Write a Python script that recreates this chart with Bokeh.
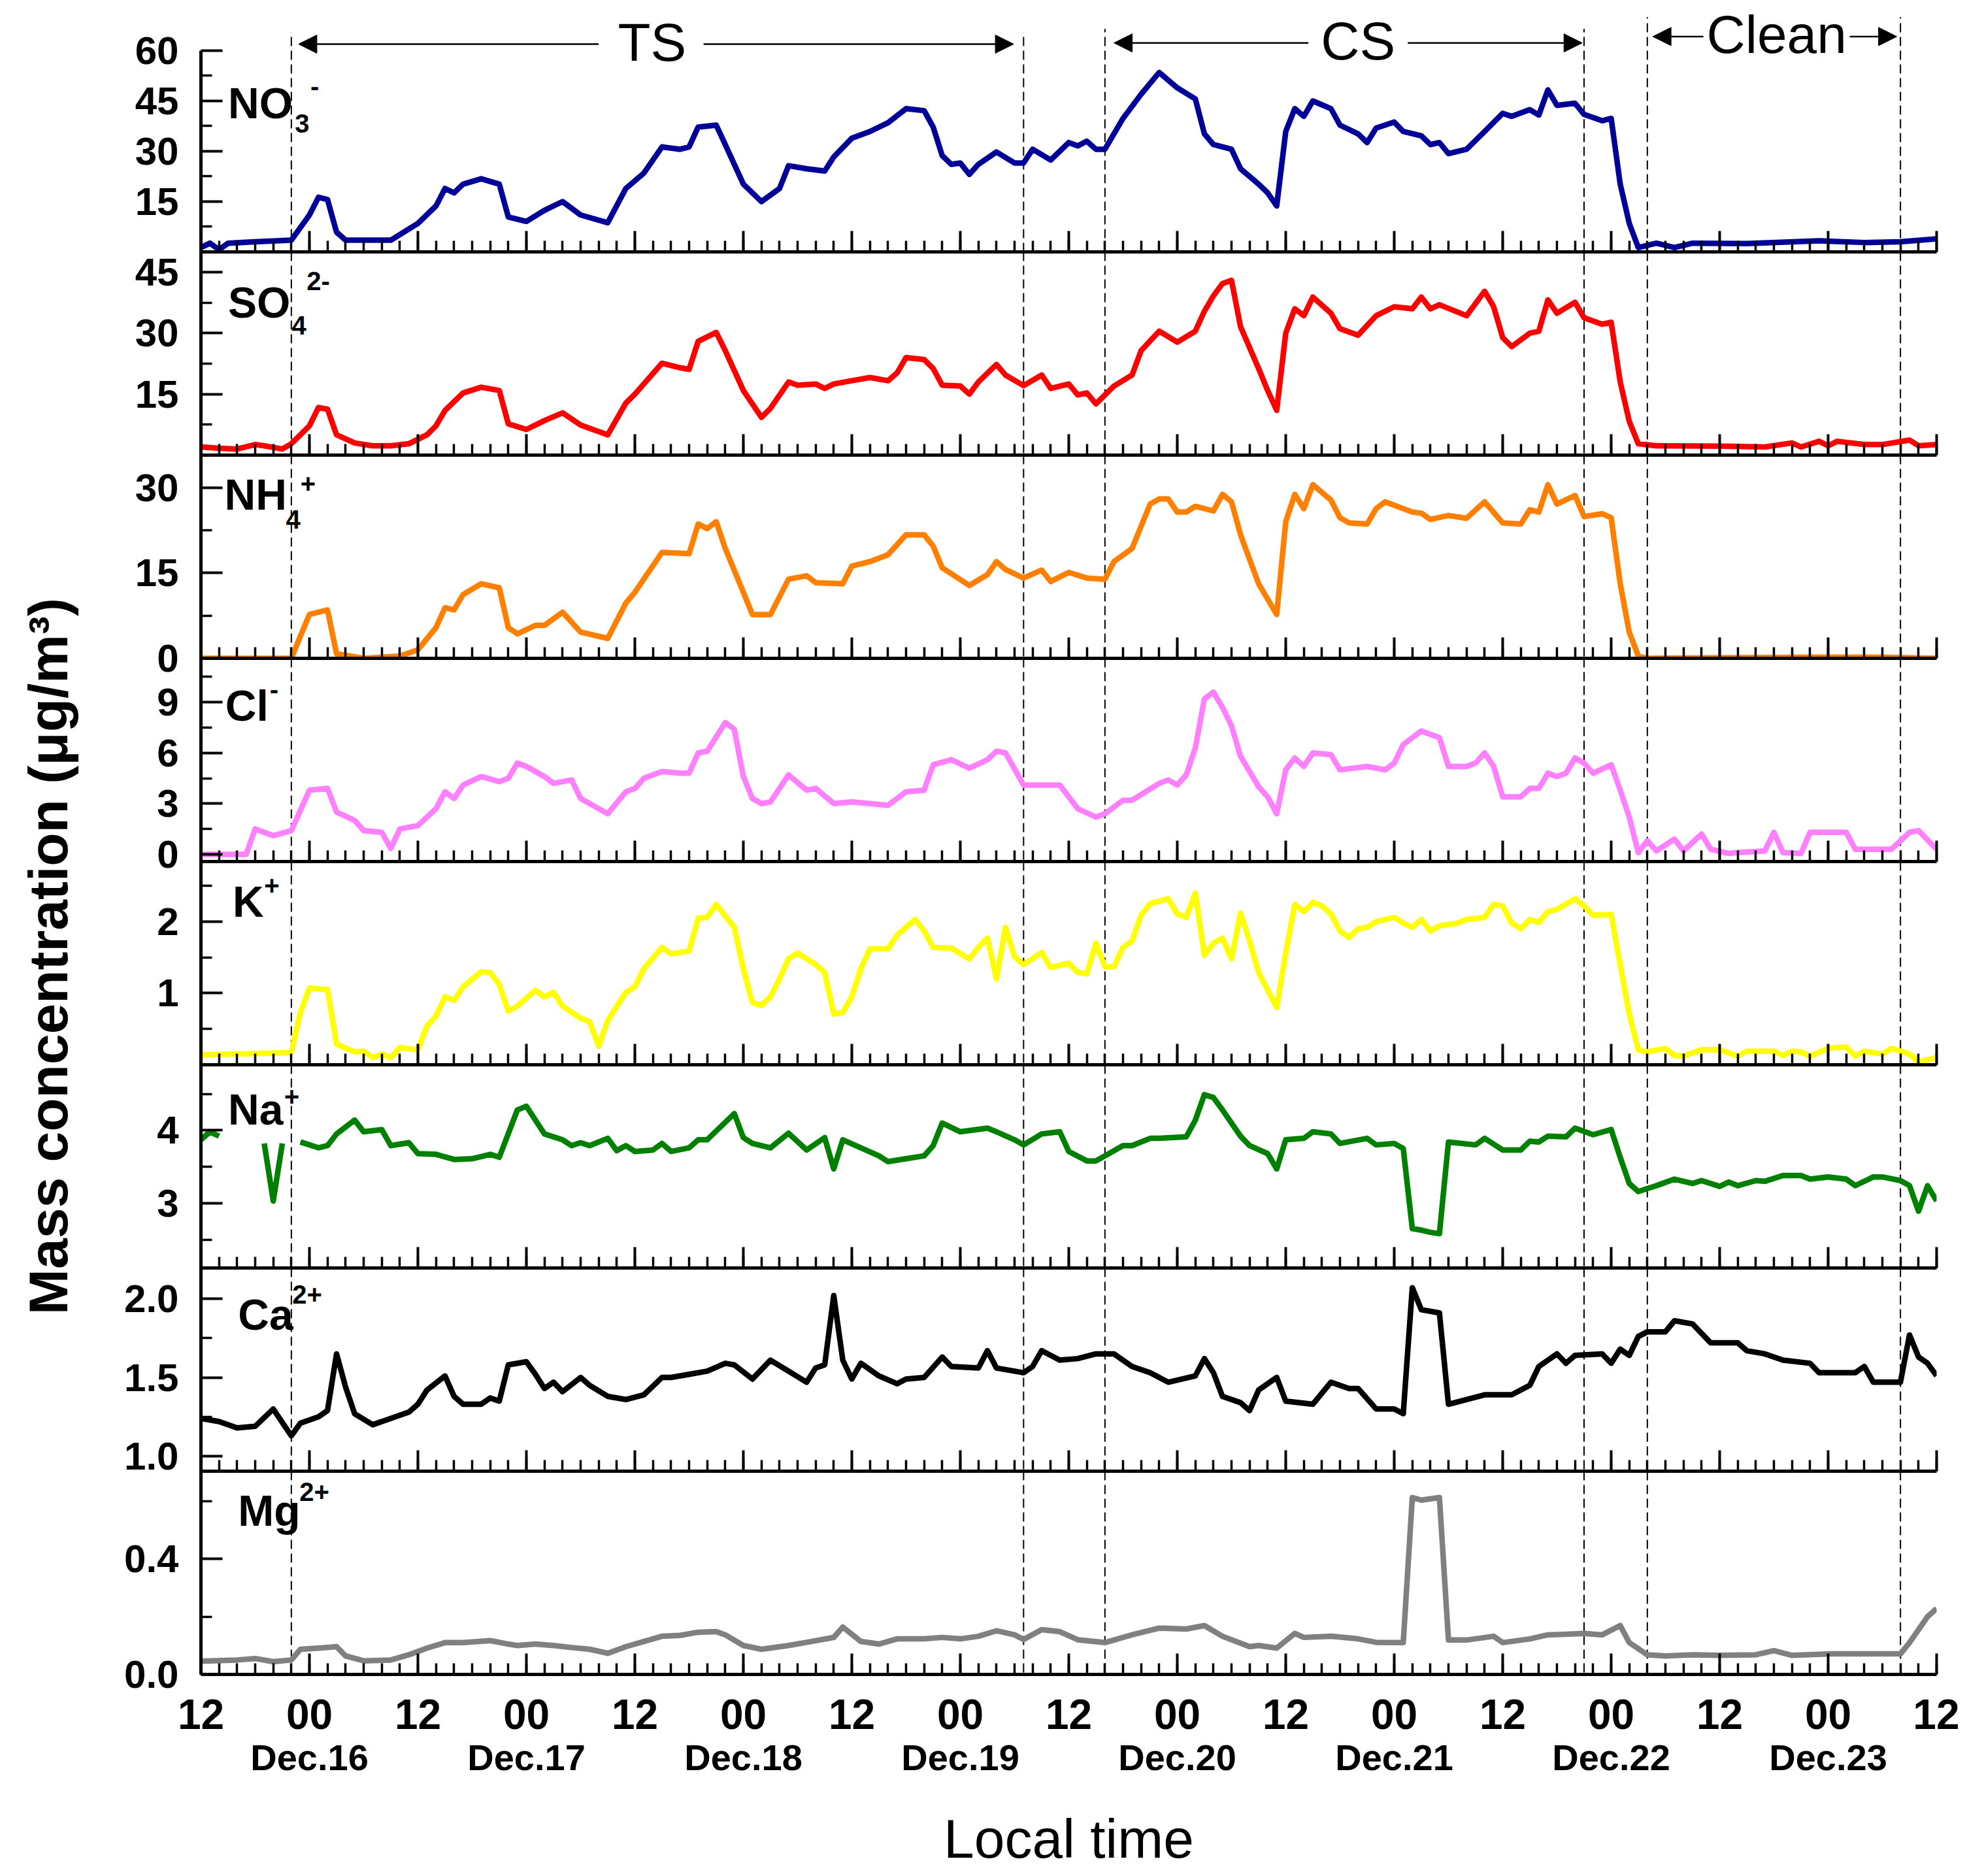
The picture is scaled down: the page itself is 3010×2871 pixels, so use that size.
from math import nan, pi

import numpy as np
from bokeh.embed import file_html
from bokeh.layouts import column, row
from bokeh.models import (Arrow, FixedTicker, Label, LinearAxis, NormalHead,
                          PrintfTickFormatter, Range1d, Span)
from bokeh.plotting import figure
from bokeh.resources import INLINE

FONT = "Liberation Sans"

# time axis: hours counted from Dec.15 00:00 local time
hour_ticks = list(range(12, 205, 12))
hour_minor = list(range(12, 205, 2))
hour_text = ["12" if h % 24 == 12 else "00" for h in hour_ticks]
day_ticks = list(range(24, 193, 24))
day_text = ["Dec.16", "Dec.17", "Dec.18", "Dec.19", "Dec.20", "Dec.21", "Dec.22", "Dec.23"]

# period boundaries (hours) and names
period_bounds = [22, 103, 112, 165, 172, 200]
period_names = ["TS", "CS", "Clean"]

# (hour, concentration in ug/m3)
no3 = [(12, 1.3), (13, 2.6), (14, 0.7), (15, 2.6), (18, 3.0), (22, 3.5), (24, 11.0), (25, 16.3),
       (26, 15.6), (27, 5.9), (28, 3.5), (33, 3.5), (36, 8.5), (38, 13.7), (39, 18.9), (40, 17.6),
       (41, 20.2), (43, 21.8), (45, 20.2), (46, 10.4), (48, 9.1), (50, 12.4), (52, 15.0), (54, 11.0),
       (57, 8.7), (59, 18.9), (61, 23.5), (63, 31.3), (65, 30.6), (66, 31.3), (67, 37.2), (69, 37.8),
       (70, 32.0), (72, 20.2), (74, 15.0), (76, 18.9), (77, 25.7), (79, 24.8), (81, 24.1), (82, 28.3),
       (84, 33.9), (86, 35.9), (88, 38.5), (90, 42.7), (92, 42.1), (93, 37.2), (94, 28.7), (95, 26.1),
       (96, 26.5), (97, 23.1), (98, 26.1), (100, 29.8), (102, 26.5), (103, 26.5), (104, 30.6),
       (106, 27.4), (108, 32.6), (109, 31.6), (110, 33.0), (111, 30.6), (112, 30.6), (114, 39.8),
       (116, 47.0), (118, 53.5), (120, 48.9), (122, 45.6), (123, 35.2), (124, 32.0), (126, 30.6),
       (127, 24.8), (129, 20.2), (130, 17.6), (131, 13.7), (132, 35.9), (133, 42.7), (134, 40.4),
       (135, 45.0), (137, 42.7), (138, 37.8), (140, 35.2), (141, 32.6), (142, 36.9), (144, 38.7),
       (145, 35.9), (147, 34.6), (148, 32.0), (149, 32.6), (150, 29.3), (152, 30.6), (154, 35.9),
       (156, 41.3), (157, 40.4), (159, 42.4), (160, 40.8), (161, 48.3), (162, 43.7), (164, 44.3),
       (165, 41.0), (167, 39.1), (168, 39.8), (169, 20.2), (170, 8.5), (171, 1.3), (173, 2.6),
       (175, 1.3), (177, 2.6), (183, 2.5), (191, 3.3), (196, 2.8), (200, 3.0), (204, 3.9)]

so4 = [(12, 2.0), (14, 1.7), (16, 1.5), (18, 2.6), (19, 2.3), (21, 1.5), (22, 2.8), (24, 7.2),
       (25, 11.7), (26, 11.3), (27, 5.0), (29, 3.0), (31, 2.3), (33, 2.3), (35, 2.8), (37, 5.0),
       (38, 7.2), (39, 11.0), (41, 15.3), (43, 16.7), (45, 15.9), (46, 7.7), (48, 6.3), (50, 8.5),
       (52, 10.4), (54, 7.4), (57, 5.0), (59, 12.8), (60, 15.0), (63, 22.6), (65, 21.5), (66, 21.1),
       (67, 28.0), (69, 30.2), (70, 25.7), (72, 15.9), (74, 9.3), (75, 11.5), (77, 18.0), (78, 17.2),
       (80, 17.5), (81, 16.4), (82, 17.5), (84, 18.3), (86, 19.1), (88, 18.3), (89, 20.2), (90, 24.0),
       (92, 23.5), (93, 21.3), (94, 17.2), (96, 17.0), (97, 15.0), (98, 18.0), (100, 22.3),
       (101, 19.7), (103, 17.1), (105, 19.7), (106, 16.4), (108, 17.5), (109, 14.8), (110, 15.3),
       (111, 12.6), (113, 17.0), (115, 19.7), (116, 25.7), (118, 30.5), (120, 27.8), (122, 30.5),
       (123, 35.4), (124, 39.2), (125, 42.2), (126, 43.0), (127, 31.6), (129, 21.3), (130, 15.9),
       (131, 11.0), (132, 30.0), (133, 36.0), (134, 34.3), (135, 38.9), (137, 34.9), (138, 31.1),
       (140, 29.5), (142, 34.3), (144, 36.5), (146, 36.0), (147, 38.9), (148, 36.0), (149, 37.0),
       (152, 34.3), (154, 40.3), (155, 36.5), (156, 28.9), (157, 26.7), (159, 30.0), (160, 30.5),
       (161, 38.2), (162, 34.9), (164, 37.6), (165, 33.8), (167, 32.2), (168, 32.7), (169, 18.0),
       (170, 8.3), (171, 2.8), (173, 2.3), (180, 2.2), (185, 2.0), (188, 3.0), (189, 2.0), (191, 3.4),
       (192, 2.3), (193, 3.4), (196, 2.6), (198, 2.6), (201, 3.7), (202, 2.3), (204, 2.6)]

nh4 = [(12, 0.0), (22, 0.0), (23, 3.9), (24, 7.7), (26, 8.5), (27, 0.8), (30, 0.0), (34, 0.4),
       (36, 1.5), (38, 5.4), (39, 8.9), (40, 8.5), (41, 11.2), (43, 13.1), (45, 12.4), (46, 5.4),
       (47, 4.3), (49, 5.8), (50, 5.8), (52, 8.1), (54, 4.6), (57, 3.5), (59, 9.7), (60, 11.6),
       (63, 18.6), (66, 18.4), (67, 23.6), (68, 22.8), (69, 24.0), (70, 19.3), (72, 11.6), (73, 7.7),
       (75, 7.7), (77, 13.9), (79, 14.5), (80, 13.3), (83, 13.1), (84, 16.2), (86, 17.0), (88, 18.2),
       (90, 21.7), (92, 21.7), (93, 19.7), (94, 15.9), (97, 12.8), (99, 14.7), (100, 17.0),
       (101, 15.6), (103, 14.1), (105, 15.5), (106, 13.5), (108, 15.1), (110, 14.1), (112, 13.9),
       (113, 17.0), (115, 19.3), (117, 27.1), (118, 28.0), (119, 28.0), (120, 25.7), (121, 25.7),
       (122, 26.7), (124, 25.9), (125, 28.8), (126, 27.5), (127, 21.7), (129, 13.1), (131, 7.7),
       (132, 24.0), (133, 28.8), (134, 26.3), (135, 30.5), (137, 27.8), (138, 24.7), (139, 23.8),
       (141, 23.6), (142, 26.3), (143, 27.5), (146, 25.7), (147, 25.5), (148, 24.4), (150, 25.1),
       (152, 24.6), (154, 27.5), (156, 23.8), (158, 23.6), (159, 26.1), (160, 25.7), (161, 30.5),
       (162, 27.1), (164, 28.6), (165, 24.9), (167, 25.4), (168, 24.7), (169, 13.1), (170, 4.6),
       (171, 0.4), (172, 0.0), (190, 0.2), (198, 0.2), (204, 0.0)]

cl = [(12, 0.0), (17, 0.0), (18, 1.5), (20, 1.1), (22, 1.4), (24, 3.8), (26, 3.9), (27, 2.5),
      (29, 2.0), (30, 1.4), (32, 1.3), (33, 0.35), (34, 1.5), (36, 1.7), (38, 2.7), (39, 3.7),
      (40, 3.3), (41, 4.1), (43, 4.6), (45, 4.3), (46, 4.5), (47, 5.4), (48, 5.2), (50, 4.6),
      (51, 4.2), (53, 4.4), (54, 3.3), (56, 2.7), (57, 2.4), (59, 3.7), (60, 3.9), (61, 4.5),
      (63, 4.9), (65, 4.8), (66, 4.8), (67, 6.0), (68, 6.1), (70, 7.8), (71, 7.4), (72, 4.6),
      (73, 3.3), (74, 3.0), (75, 3.1), (77, 4.7), (79, 3.8), (80, 3.9), (82, 3.0), (84, 3.1),
      (86, 3.0), (88, 2.9), (90, 3.7), (92, 3.8), (93, 5.3), (95, 5.6), (97, 5.1), (99, 5.6),
      (100, 6.1), (101, 6.0), (103, 4.1), (105, 4.1), (107, 4.1), (109, 2.7), (111, 2.2),
      (112, 2.4), (114, 3.2), (115, 3.2), (118, 4.2), (119, 4.4), (120, 4.1), (121, 4.7),
      (122, 6.3), (123, 9.2), (124, 9.6), (125, 8.7), (126, 7.6), (127, 5.8), (129, 4.0),
      (130, 3.4), (131, 2.4), (132, 5.0), (133, 5.7), (134, 5.2), (135, 6.0), (137, 5.9),
      (138, 5.0), (141, 5.2), (143, 5.0), (144, 5.4), (145, 6.5), (147, 7.3), (149, 6.9),
      (150, 5.2), (152, 5.2), (153, 5.4), (154, 6.0), (155, 5.2), (156, 3.4), (158, 3.4),
      (159, 3.9), (160, 3.9), (161, 4.8), (162, 4.6), (163, 4.8), (164, 5.7), (165, 5.4),
      (166, 4.8), (168, 5.3), (169, 3.8), (170, 2.2), (171, 0.1), (172, 0.8), (173, 0.2),
      (175, 0.9), (176, 0.2), (178, 1.2), (179, 0.3), (181, 0.05), (182, 0.1), (185, 0.2),
      (186, 1.3), (187, 0.1), (189, 0.05), (190, 1.3), (194, 1.3), (195, 0.3), (199, 0.3),
      (201, 1.3), (202, 1.4), (204, 0.3)]

k = [(12, 0.14), (22, 0.17), (23, 0.73), (24, 1.07), (26, 1.05), (27, 0.29), (29, 0.18), (30, 0.19),
     (31, 0.10), (32, 0.15), (33, 0.10), (34, 0.24), (36, 0.21), (37, 0.54), (38, 0.68), (39, 0.95),
     (40, 0.90), (41, 1.09), (43, 1.30), (44, 1.29), (45, 1.12), (46, 0.75), (47, 0.82), (49, 1.04),
     (50, 0.95), (51, 1.01), (52, 0.82), (54, 0.65), (55, 0.60), (56, 0.26), (57, 0.62), (59, 1.01),
     (60, 1.09), (61, 1.34), (63, 1.64), (64, 1.55), (66, 1.59), (67, 2.05), (68, 2.06), (69, 2.24),
     (71, 1.92), (72, 1.34), (73, 0.87), (74, 0.83), (75, 0.95), (76, 1.20), (77, 1.48), (78, 1.56),
     (80, 1.40), (81, 1.29), (82, 0.71), (83, 0.73), (84, 0.95), (85, 1.34), (86, 1.62), (88, 1.62),
     (89, 1.81), (91, 2.03), (92, 1.87), (93, 1.64), (95, 1.63), (97, 1.48), (98, 1.64), (99, 1.77),
     (100, 1.20), (101, 1.92), (102, 1.51), (103, 1.40), (105, 1.57), (106, 1.36), (108, 1.42),
     (109, 1.29), (110, 1.27), (111, 1.70), (112, 1.37), (113, 1.37), (114, 1.64), (115, 1.73),
     (116, 2.09), (117, 2.25), (119, 2.32), (120, 2.11), (121, 2.06), (122, 2.40), (123, 1.53),
     (124, 1.70), (125, 1.77), (126, 1.48), (127, 2.12), (128, 1.73), (129, 1.29), (131, 0.80),
     (132, 1.56), (133, 2.24), (134, 2.14), (135, 2.27), (136, 2.22), (137, 2.11), (138, 1.87),
     (139, 1.78), (140, 1.90), (141, 1.92), (142, 2.00), (144, 2.06), (145, 1.98), (146, 1.92),
     (147, 2.03), (148, 1.87), (149, 1.94), (151, 1.98), (152, 2.03), (154, 2.06), (155, 2.24),
     (156, 2.22), (157, 1.98), (158, 1.90), (159, 2.03), (160, 1.99), (161, 2.14), (162, 2.17),
     (164, 2.32), (165, 2.22), (166, 2.09), (168, 2.10), (169, 1.40), (170, 0.71), (171, 0.21),
     (172, 0.18), (174, 0.23), (175, 0.13), (176, 0.12), (178, 0.21), (180, 0.21), (182, 0.12),
     (183, 0.19), (186, 0.19), (187, 0.13), (188, 0.19), (189, 0.18), (190, 0.12), (192, 0.23),
     (194, 0.25), (195, 0.12), (196, 0.19), (198, 0.15), (199, 0.23), (201, 0.15), (202, 0.04),
     (204, 0.10)]

na = [(12, 3.87), (13, 3.98), (14, 3.92), (16, nan), (19, 3.82), (20, 3.03), (21, 3.82), (22, nan),
      (23, 3.84), (25, 3.76), (26, 3.79), (27, 3.95), (29, 4.14), (30, 3.98), (32, 4.01), (33, 3.79),
      (35, 3.83), (36, 3.68), (38, 3.67), (40, 3.60), (42, 3.61), (44, 3.67), (45, 3.63), (47, 4.28),
      (48, 4.33), (50, 3.95), (52, 3.87), (53, 3.79), (54, 3.83), (55, 3.79), (57, 3.89), (58, 3.72),
      (59, 3.79), (60, 3.71), (62, 3.73), (63, 3.82), (64, 3.71), (66, 3.76), (67, 3.87), (68, 3.87),
      (70, 4.11), (71, 4.23), (72, 3.90), (73, 3.82), (75, 3.76), (77, 3.96), (79, 3.73), (81, 3.90),
      (82, 3.47), (83, 3.87), (85, 3.76), (87, 3.65), (88, 3.57), (90, 3.61), (92, 3.65), (93, 3.79),
      (94, 4.10), (96, 3.98), (99, 4.03), (100, 3.98), (102, 3.87), (103, 3.80), (105, 3.95),
      (107, 3.98), (108, 3.71), (110, 3.58), (111, 3.58), (112, 3.65), (114, 3.79), (115, 3.79),
      (117, 3.89), (118, 3.89), (121, 3.91), (122, 4.14), (123, 4.49), (124, 4.45), (125, 4.28),
      (127, 3.92), (128, 3.79), (130, 3.68), (131, 3.47), (132, 3.87), (134, 3.89), (135, 3.98),
      (137, 3.95), (138, 3.82), (141, 3.89), (142, 3.80), (144, 3.82), (145, 3.75), (146, 2.65),
      (147, 2.63), (148, 2.60), (149, 2.58), (150, 3.84), (153, 3.80), (154, 3.89), (156, 3.73),
      (158, 3.73), (159, 3.85), (160, 3.84), (161, 3.92), (163, 3.91), (164, 4.03), (166, 3.94),
      (168, 4.01), (169, 3.63), (170, 3.27), (171, 3.16), (173, 3.24), (175, 3.33), (177, 3.27),
      (178, 3.31), (180, 3.23), (181, 3.29), (182, 3.24), (184, 3.31), (185, 3.30), (187, 3.38),
      (189, 3.38), (190, 3.33), (192, 3.36), (194, 3.33), (195, 3.24), (197, 3.36), (198, 3.36),
      (200, 3.31), (201, 3.24), (202, 2.89), (203, 3.24), (204, 3.03)]

ca = [(12, 1.24), (14, 1.22), (16, 1.18), (18, 1.19), (20, 1.30), (22, 1.13), (23, 1.21), (25, 1.25),
      (26, 1.29), (27, 1.65), (28, 1.44), (29, 1.27), (31, 1.20), (33, 1.24), (35, 1.28), (36, 1.33),
      (37, 1.42), (39, 1.51), (40, 1.38), (41, 1.33), (43, 1.33), (44, 1.37), (45, 1.35), (46, 1.58),
      (48, 1.60), (49, 1.52), (50, 1.43), (51, 1.47), (52, 1.41), (54, 1.50), (55, 1.45), (57, 1.38),
      (59, 1.36), (61, 1.39), (63, 1.50), (64, 1.50), (66, 1.52), (68, 1.54), (70, 1.59), (71, 1.58),
      (73, 1.49), (75, 1.61), (77, 1.54), (79, 1.47), (80, 1.56), (81, 1.58), (82, 2.02), (83, 1.61),
      (84, 1.49), (85, 1.59), (87, 1.51), (89, 1.46), (90, 1.49), (92, 1.50), (94, 1.63), (95, 1.57),
      (98, 1.56), (99, 1.67), (100, 1.56), (102, 1.54), (103, 1.53), (104, 1.57), (105, 1.67),
      (107, 1.61), (109, 1.62), (111, 1.65), (113, 1.65), (115, 1.57), (117, 1.53), (119, 1.47),
      (122, 1.51), (123, 1.62), (124, 1.53), (125, 1.38), (127, 1.34), (128, 1.29), (129, 1.42),
      (131, 1.50), (132, 1.35), (135, 1.33), (137, 1.47), (139, 1.43), (140, 1.43), (142, 1.30),
      (144, 1.30), (145, 1.27), (146, 2.07), (147, 1.93), (149, 1.91), (150, 1.33), (152, 1.36),
      (154, 1.39), (157, 1.39), (159, 1.45), (160, 1.57), (162, 1.65), (163, 1.59), (164, 1.64),
      (167, 1.65), (168, 1.59), (169, 1.68), (170, 1.64), (171, 1.76), (172, 1.79), (174, 1.79),
      (175, 1.86), (177, 1.84), (179, 1.72), (180, 1.72), (182, 1.72), (183, 1.67), (185, 1.65),
      (187, 1.61), (190, 1.59), (191, 1.53), (193, 1.53), (195, 1.53), (196, 1.57), (197, 1.47),
      (200, 1.47), (201, 1.77), (202, 1.63), (203, 1.59), (204, 1.51)]

mg = [(12, 0.046), (16, 0.050), (18, 0.055), (20, 0.044), (22, 0.050), (23, 0.087), (25, 0.091),
      (27, 0.096), (28, 0.064), (30, 0.047), (33, 0.050), (35, 0.068), (37, 0.091), (39, 0.110),
      (41, 0.110), (44, 0.117), (46, 0.105), (47, 0.100), (49, 0.105), (51, 0.100), (53, 0.093),
      (55, 0.087), (57, 0.073), (59, 0.096), (61, 0.114), (63, 0.132), (65, 0.135), (67, 0.146),
      (69, 0.148), (70, 0.137), (72, 0.100), (74, 0.087), (77, 0.100), (79, 0.111), (82, 0.128),
      (83, 0.164), (85, 0.114), (87, 0.105), (89, 0.123), (92, 0.123), (94, 0.128), (96, 0.123),
      (98, 0.132), (100, 0.151), (102, 0.137), (103, 0.121), (105, 0.155), (107, 0.148),
      (109, 0.120), (112, 0.110), (115, 0.137), (118, 0.160), (121, 0.157), (123, 0.169),
      (125, 0.132), (128, 0.096), (129, 0.100), (131, 0.091), (133, 0.142), (134, 0.128),
      (137, 0.132), (140, 0.123), (142, 0.111), (145, 0.110), (146, 0.612), (147, 0.603),
      (149, 0.612), (150, 0.119), (152, 0.119), (155, 0.132), (156, 0.110), (159, 0.123),
      (161, 0.137), (163, 0.139), (165, 0.142), (167, 0.137), (169, 0.169), (170, 0.110),
      (172, 0.068), (174, 0.064), (177, 0.068), (180, 0.066), (184, 0.068), (186, 0.082),
      (188, 0.066), (192, 0.071), (196, 0.071), (200, 0.071), (201, 0.110), (203, 0.200),
      (204, 0.228)]

# name, subscript, superscript, colour, data, y range, major ticks, minor ticks, tick format,
# label anchors (x, y) for name / subscript / superscript in the panel's own units
panels = [
    ("NO", "3", "-", "#000099", no3, (0, 73.44), [15, 30, 45, 60], [7.5, 22.5, 37.5, 52.5], "%d",
     [(15.0, 40.9), (22.4, 36.8), (24.1, 47.8)]),
    ("SO", "4", "2-", "#ff0000", so4, (0, 50), [15, 30, 45], [7.5, 22.5, 37.5], "%d",
     [(15.0, 34.7), (22.05, 30.7), (23.7, 41.6)]),
    ("NH", "4", "+", "#ff8000", nh4, (0, 35.7), [0, 15, 30], [7.5, 22.5], "%d",
     [(14.6, 26.7), (21.4, 23.5), (23.0, 29.8)]),
    ("Cl", None, "-", "#ff80ff", cl, (-0.43, 11.6), [0, 3, 6, 9], [1.5, 4.5, 7.5, 10.5], "%d",
     [(14.7, 8.09), None, (19.6, 9.45)]),
    ("K", None, "+", "#ffff00", k, (0, 2.84), [1, 2], [0.5, 1.5, 2.5], "%d",
     [(15.5, 2.11), None, (19.0, 2.43)]),
    ("Na", None, "+", "#008000", na, (2.11, 4.9), [3, 4], [2.5, 3.5, 4.5], "%d",
     [(15.0, 4.12), None, (21.2, 4.39)]),
    ("Ca", None, "2+", "#000000", ca, (0.905, 2.195), [1.0, 1.5, 2.0], [1.25, 1.75], "%.1f",
     [(16.1, 1.822), None, (22.1, 1.994)]),
    ("Mg", None, "2+", "#808080", mg, (0, 0.703), [0.0, 0.4], [0.2, 0.6], "%.1f",
     [(16.1, 0.525), None, (22.9, 0.614)]),
]

FRAME_W = 2656
TOP_H = 377
PANEL_H = 311
PAD = 45
NAME_LIFT = 18    # px: Bokeh sets alphabetic-baseline labels a little low
SMALL_LIFT = 8
TITLE_LIFT = 33


def style_axis(ax, tick_in, minor_in, size):
    ax.axis_line_width = 5
    ax.axis_line_color = "black"
    ax.major_tick_in = tick_in
    ax.major_tick_out = 0
    ax.minor_tick_in = minor_in
    ax.minor_tick_out = 0
    ax.major_tick_line_width = 4
    ax.minor_tick_line_width = 3.5
    ax.major_label_text_font = FONT
    ax.major_label_text_font_style = "bold"
    ax.major_label_text_font_size = size
    ax.major_label_text_color = "black"


def add_text(p, x, y, text, size):
    p.add_layout(Label(x=x, y=y, text=text, text_font=FONT, text_font_style="bold",
                       text_font_size=size, text_align="left", text_baseline="alphabetic",
                       text_color="black"))


x_range = Range1d(12, 204)
figs = []
for i, (name, sub, sup, color, series, yr, majors, minors, fmt, anchors) in enumerate(panels):
    first = i == 0
    last = i == len(panels) - 1
    fh = TOP_H if first else PANEL_H
    per_px = (yr[1] - yr[0]) / fh
    p = figure(frame_width=FRAME_W, frame_height=fh,
               x_range=x_range, y_range=Range1d(*yr),
               x_axis_type=None, y_axis_type=None,
               toolbar_location=None, output_backend="svg",
               min_border_left=169, min_border_right=35,
               min_border_top=0 if first else PAD,
               min_border_bottom=0 if last else PAD,
               background_fill_color=None, border_fill_color=None,
               outline_line_color=None)
    if not first:
        # pull the panel up so the frames touch; the borders only hold overflowing labels
        p.margin = (-2 * PAD, 0, 0, 0)

    ya = LinearAxis(ticker=FixedTicker(ticks=majors, minor_ticks=minors),
                    formatter=PrintfTickFormatter(format=fmt))
    style_axis(ya, 33, 17, "60px")
    ya.major_label_standoff = 34
    if first:
        ya.bounds = (0, 60)
    p.add_layout(ya, "left")

    xa = LinearAxis(ticker=FixedTicker(ticks=hour_ticks, minor_ticks=hour_minor))
    if last:
        style_axis(xa, 32, 17, "64px")
        xa.major_label_overrides = dict(zip(hour_ticks, hour_text))
        xa.major_label_standoff = 38
    else:
        style_axis(xa, 32, 17, "0px")
        xa.major_label_overrides = {h: "" for h in hour_ticks}
        xa.major_label_standoff = 0
    p.add_layout(xa, "below")

    # period boundaries
    if first:
        tops = [65.5, 65.5, 66.5, 66.5, 70.0, 70.0]
        p.segment(x0=period_bounds, y0=[0] * 6, x1=period_bounds, y1=tops,
                  line_color="black", line_width=2, line_dash="14 7")
    else:
        for b in period_bounds:
            p.add_layout(Span(location=b, dimension="height", line_color="black",
                              line_width=2, line_dash="14 7", level="underlay"))

    t, v = zip(*series)
    p.line(np.array(t, dtype=float), np.array(v, dtype=float), line_color=color,
           line_width=8.5, line_join="round")

    main_xy, sub_xy, sup_xy = anchors
    add_text(p, main_xy[0], main_xy[1] + NAME_LIFT * per_px, name, "66px")
    if sub:
        add_text(p, sub_xy[0], sub_xy[1] + SMALL_LIFT * per_px, sub, "40px")
    add_text(p, sup_xy[0], sup_xy[1] + SMALL_LIFT * per_px, sup, "40px")

    if first:
        head = dict(size=28, fill_color="black", line_color="black")
        # (text centre, left line end, left tip, right line start, right tip, line y)
        arrows = [(61.9, 56.0, 22.8, 67.6, 101.9, 61.95),
                  (140.0, 134.5, 113.0, 145.5, 164.8, 62.3),
                  (186.3, 178.2, 172.6, 194.4, 199.6, 64.2)]
        for pname, (tx, l0, l1, r0, r1, ay) in zip(period_names, arrows):
            p.add_layout(Arrow(end=NormalHead(**head), x_start=l0, y_start=ay, x_end=l1, y_end=ay,
                               line_width=2.5, line_color="black"))
            p.add_layout(Arrow(end=NormalHead(**head), x_start=r0, y_start=ay, x_end=r1, y_end=ay,
                               line_width=2.5, line_color="black"))
            p.add_layout(Label(x=tx, y=ay - 5.8 + TITLE_LIFT * per_px, text=pname, text_font=FONT,
                               text_font_size="82px", text_align="center",
                               text_baseline="alphabetic", text_color="black"))

    if last:
        da = LinearAxis(ticker=FixedTicker(ticks=day_ticks, minor_ticks=[]),
                        major_label_overrides=dict(zip(day_ticks, day_text)),
                        axis_label="Local time")
        da.axis_line_color = None
        da.major_tick_line_color = None
        da.minor_tick_line_color = None
        da.major_tick_in = 0
        da.major_tick_out = 0
        da.major_label_standoff = 9
        da.major_label_text_font = FONT
        da.major_label_text_font_style = "bold"
        da.major_label_text_font_size = "56px"
        da.major_label_text_color = "black"
        da.axis_label_text_font = FONT
        da.axis_label_text_font_style = "normal"
        da.axis_label_text_font_size = "84px"
        da.axis_label_text_color = "black"
        da.axis_label_standoff = 43
        p.add_layout(da, "below")

    figs.append(p)

# shared y title, in its own narrow strip
SIDE_H = 2540
side = figure(frame_width=130, frame_height=SIDE_H, x_range=Range1d(0, 130),
              y_range=Range1d(0, SIDE_H), x_axis_type=None, y_axis_type=None,
              toolbar_location=None, output_backend="svg", min_border=0,
              background_fill_color=None, border_fill_color=None, outline_line_color=None)
side.add_layout(Label(x=65, y=SIDE_H - 1455, text="Mass concentration (μg/m³)", angle=pi / 2,
                      text_align="center", text_baseline="middle", text_font=FONT,
                      text_font_style="bold", text_font_size="84px", text_color="black"))

layout = row(side, column(*figs), margin=(8, 0, 0, 8))
open("out.html", "w").write(file_html(layout, INLINE))
